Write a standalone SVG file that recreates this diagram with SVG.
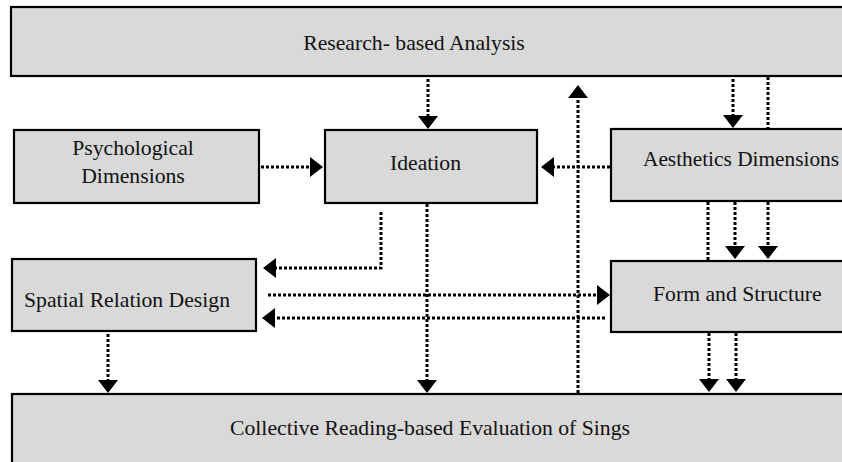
<svg xmlns="http://www.w3.org/2000/svg" width="842" height="462" viewBox="0 0 842 462">
<style>
.box{fill:#d9d9d9;stroke:#000;stroke-width:2.2}
.t{font-family:'Liberation Serif','Tinos','Times New Roman','DejaVu Serif',serif;font-size:21.7px;fill:#111}
.c{text-anchor:middle}
.d{fill:none;stroke:#000;stroke-width:3;stroke-dasharray:3 2}
</style>
<defs>
<marker id="ah" viewBox="0 0 13 20" refX="0" refY="10" markerWidth="13" markerHeight="20" markerUnits="userSpaceOnUse" orient="auto">
<path d="M0,0 L13,10 L0,20 Z" fill="#000"/>
</marker>
</defs>
<rect width="842" height="462" fill="#fff"/>
<g id="research">
<rect class="box" x="11" y="7" width="840" height="69"/>
<text class="t c" x="414" y="50">Research- based Analysis</text>
</g>
<g id="psychological">
<rect class="box" x="14" y="130" width="245" height="73"/>
<text class="t c" x="133" y="155">Psychological</text>
<text class="t c" x="133" y="183">Dimensions</text>
</g>
<g id="ideation">
<rect class="box" x="325" y="130" width="212" height="73"/>
<text class="t c" x="425.5" y="170">Ideation</text>
</g>
<g id="aesthetics">
<rect class="box" x="611" y="129" width="240" height="72"/>
<text class="t" x="643" y="166" textLength="196" lengthAdjust="spacingAndGlyphs">Aesthetics Dimensions</text>
</g>
<g id="spatial">
<rect class="box" x="12" y="259" width="244" height="72"/>
<text class="t" x="24" y="307">Spatial Relation Design</text>
</g>
<g id="form">
<rect class="box" x="611" y="261" width="240" height="71"/>
<text class="t" x="653" y="301">Form and Structure</text>
</g>
<g id="collective">
<rect class="box" x="12" y="394" width="839" height="80"/>
<text class="t c" x="430" y="435">Collective Reading-based Evaluation of Sings</text>
</g>
<g id="connectors">
<path class="d" d="M428,79 V116" marker-end="url(#ah)"/>
<path class="d" d="M578,393 V98" marker-end="url(#ah)"/>
<path class="d" d="M733,79 V115" marker-end="url(#ah)"/>
<path class="d" d="M768,77 V128"/>
<path class="d" d="M261,167 H310" marker-end="url(#ah)"/>
<path class="d" d="M610,167 H554" marker-end="url(#ah)"/>
<path class="d" d="M381,212 V268 H276" marker-end="url(#ah)"/>
<path class="d" d="M427,204 V380" marker-end="url(#ah)"/>
<path class="d" d="M268,295 H597" marker-end="url(#ah)"/>
<path class="d" d="M605,318 H275" marker-end="url(#ah)"/>
<path class="d" d="M108,334 V380" marker-end="url(#ah)"/>
<path class="d" d="M708,202 V260"/>
<path class="d" d="M735,202 V246" marker-end="url(#ah)"/>
<path class="d" d="M768,202 V246" marker-end="url(#ah)"/>
<path class="d" d="M709,333 V379" marker-end="url(#ah)"/>
<path class="d" d="M736,333 V379" marker-end="url(#ah)"/>
</g>
</svg>
